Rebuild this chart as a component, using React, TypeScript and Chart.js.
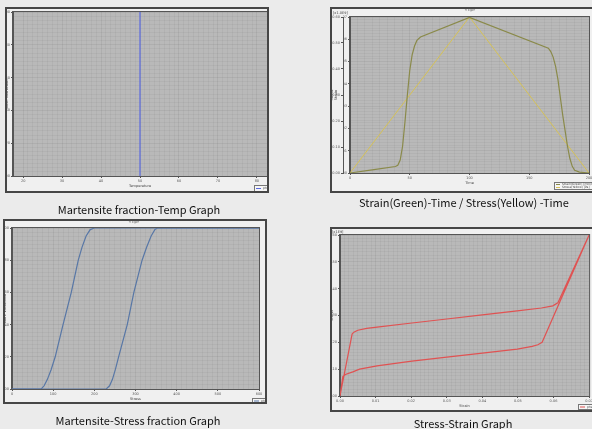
import React, { useEffect, useRef } from 'react';
import { Chart, registerables } from 'chart.js';
Chart.register(...registerables);

const FONT = '"DejaVu Sans", sans-serif';

// ---------- Panel 1: Martensite fraction vs Temperature ----------
const tempValues = [50, 50];
const tempFraction = [0, 1];
const tempTicks = [20, 30, 40, 50, 60, 70, 80];
const fractionTicks = [0, 0.2, 0.4, 0.6, 0.8, 1.0];

// ---------- Panel 2: Strain / Stress vs Time ----------
const strainTime = [0, 20, 38, 40, 42, 44, 46, 48, 50, 52, 54, 56, 59, 100, 166, 168, 170, 172, 174, 176, 178, 180, 182, 184, 186, 188, 192, 200];
const strainValues = [0, 0.0015, 0.0029, 0.0035, 0.0058, 0.012, 0.023, 0.035, 0.046, 0.053, 0.057, 0.0595, 0.061, 0.0698, 0.056, 0.0545, 0.052, 0.048, 0.042, 0.034, 0.026, 0.019, 0.012, 0.0065, 0.003, 0.0012, 0.0004, 0];
const stressTime = [0, 100, 200];
const stressValues = [0, 0.6, 0];
const timeTicks = [0, 50, 100, 150, 200];
const strainAxisTicks = [0, 0.01, 0.02, 0.03, 0.04, 0.05, 0.06, 0.07];
const stressAxisTicks = [0, 0.1, 0.2, 0.3, 0.4, 0.5, 0.6];

// ---------- Panel 3: Martensite fraction vs Stress ----------
const stressA = [0, 71, 78, 86, 95, 105, 124, 144, 161, 170, 180, 190, 200, 600];
const fractionA = [0, 0, 0.02, 0.06, 0.12, 0.2, 0.4, 0.6, 0.8, 0.88, 0.95, 0.99, 1, 1];
const stressB = [0, 229, 237, 244, 251, 259, 280, 296, 316, 327, 338, 347, 353, 600];
const fractionB = [0, 0, 0.02, 0.06, 0.12, 0.2, 0.4, 0.6, 0.8, 0.88, 0.95, 0.99, 1, 1];
const stressMpaTicks = [0, 100, 200, 300, 400, 500, 600];

// ---------- Panel 4: Stress vs Strain loop ----------
const loopStrain = [0, 0.0034, 0.0039, 0.005, 0.0075, 0.0104, 0.0202, 0.03, 0.04, 0.0498, 0.0566, 0.0598, 0.0612, 0.07, 0.0568, 0.0556, 0.054, 0.0498, 0.04, 0.03, 0.0202, 0.0104, 0.0055, 0.0036, 0.0015, 0.0008, 0];
const loopStress = [0, 0.231, 0.238, 0.245, 0.252, 0.257, 0.272, 0.287, 0.302, 0.317, 0.328, 0.336, 0.347, 0.6, 0.2, 0.191, 0.185, 0.175, 0.16, 0.145, 0.13, 0.112, 0.1, 0.09, 0.08, 0.072, 0];
const loopStrainTicks = [0, 0.01, 0.02, 0.03, 0.04, 0.05, 0.06, 0.07];
const loopStressTicks = [0, 0.1, 0.2, 0.3, 0.4, 0.5, 0.6];

function buildTicks(major: number[], minor: number) {
  const out: number[] = [];
  for (let i = 0; i < major.length - 1; i++) {
    const a = major[i], b = major[i + 1];
    for (let k = 0; k < minor; k++) out.push(a + ((b - a) * k) / minor);
  }
  out.push(major[major.length - 1]);
  return out;
}

function axis(o: any) {
  const horizontal = o.pos === 'bottom' || o.pos === 'top';
  const span = o.max - o.min;
  const isMajor = (v: number) => o.major.some((m: number) => Math.abs(m - v) < span * 1e-6);
  return {
    type: 'linear',
    position: o.pos,
    min: o.min,
    max: o.max,
    weight: o.weight ?? 0,
    afterBuildTicks: (s: any) => {
      s.ticks = buildTicks(o.major, o.minor ?? 8).map((v) => ({ value: v }));
    },
    afterFit: (s: any) => {
      if (horizontal) s.height = o.size;
      else s.width = o.size;
    },
    ticks: {
      autoSkip: false,
      maxRotation: 0,
      minRotation: 0,
      padding: 1,
      color: '#555',
      font: { size: 3.5, family: FONT },
      callback: (v: number) => (isMajor(v) ? o.fmt(v) : ''),
    },
    grid: {
      drawOnChartArea: o.grid !== false,
      color: (c: any) => (c.tick && isMajor(c.tick.value) ? 'rgba(0,0,0,0.055)' : 'rgba(0,0,0,0.035)'),
      tickColor: (c: any) => (c.tick && isMajor(c.tick.value) ? '#555' : 'rgba(0,0,0,0)'),
      tickLength: 2,
      lineWidth: 1,
    },
    border: { display: true, color: '#555', width: 1 },
    title: o.title
      ? { display: true, text: o.title, font: { size: 3.5, family: FONT }, color: '#444', padding: 0 }
      : { display: false },
  };
}

function framePlugin() {
  return {
    id: 'frame',
    beforeDraw(chart: any) {
      const { ctx, chartArea: a } = chart;
      ctx.save();
      ctx.fillStyle = '#b9b9b9';
      ctx.fillRect(a.left, a.top, a.right - a.left, a.bottom - a.top);
      ctx.restore();
    },
    afterDraw(chart: any) {
      const { ctx, chartArea: a } = chart;
      ctx.save();
      ctx.strokeStyle = '#555';
      ctx.lineWidth = 1;
      ctx.strokeRect(a.left - 0.5, a.top - 0.5, a.right - a.left + 1, a.bottom - a.top + 1);
      ctx.restore();
    },
  };
}

function legendPlugin(r: { x: number; y: number; w: number; h: number; line: number }) {
  return {
    id: 'boxLegend',
    afterDraw(chart: any) {
      const ctx = chart.ctx;
      ctx.save();
      ctx.fillStyle = '#f6f6f6';
      ctx.fillRect(r.x, r.y, r.w, r.h);
      ctx.strokeStyle = '#777';
      ctx.lineWidth = 1;
      ctx.strokeRect(r.x + 0.5, r.y + 0.5, r.w - 1, r.h - 1);
      const ds = chart.data.datasets.filter((d: any) => d.label);
      const rowH = (r.h - 2) / ds.length;
      ds.forEach((d: any, i: number) => {
        const cy = r.y + 1 + rowH * (i + 0.5);
        ctx.strokeStyle = d.borderColor;
        ctx.beginPath();
        ctx.moveTo(r.x + 2, cy);
        ctx.lineTo(r.x + 2 + r.line, cy);
        ctx.stroke();
        ctx.fillStyle = '#444';
        ctx.font = `3px ${FONT}`;
        ctx.textBaseline = 'middle';
        ctx.fillText(d.label, r.x + 4 + r.line, cy);
      });
      ctx.restore();
    },
  };
}

function notesPlugin(items: { text: string; x: number; y: number; align?: string }[]) {
  return {
    id: 'notes',
    afterDraw(chart: any) {
      const ctx = chart.ctx;
      ctx.save();
      ctx.fillStyle = '#444';
      ctx.font = `3.5px ${FONT}`;
      ctx.textBaseline = 'middle';
      items.forEach((n) => {
        ctx.textAlign = n.align || 'left';
        ctx.fillText(n.text, n.x, n.y);
      });
      ctx.restore();
    },
  };
}

function pts(xs: number[], ys: number[]) {
  return xs.map((x, i) => ({ x, y: ys[i] }));
}

const f2 = (v: number) => v.toFixed(2);
const f0 = (v: number) => String(Math.round(v));

function baseOptions(padding: any, scales: any) {
  return {
    responsive: false,
    animation: false,
    devicePixelRatio: 1,
    layout: { padding },
    plugins: { legend: { display: false }, tooltip: { enabled: false }, title: { display: false } },
    elements: { point: { radius: 0 }, line: { tension: 0 } },
    scales,
  };
}

function config1() {
  return {
    type: 'scatter',
    data: {
      datasets: [
        { label: 'phs1', data: pts(tempValues, tempFraction), showLine: true, borderColor: '#5a6ae0', borderWidth: 1.2, pointRadius: 0, clip: 2 },
      ],
    },
    options: baseOptions(
      { left: 0, top: 5, right: 2, bottom: 5 },
      {
        x: axis({ pos: 'bottom', min: 17.4, max: 82.6, major: tempTicks, size: 12, fmt: f0, title: 'Temperature' }),
        y: axis({ pos: 'left', min: 0, max: 1, major: fractionTicks, size: 8, fmt: f2, title: 'Mart. Volfraction' }),
      }
    ),
    plugins: [framePlugin(), legendPlugin({ x: 249, y: 178, w: 15, h: 7, line: 5 })],
  };
}

function config2() {
  return {
    type: 'scatter',
    data: {
      datasets: [
        { label: 'Strain(Green) [mm/mm]', data: pts(strainTime, strainValues), showLine: true, borderColor: '#8a8a4a', borderWidth: 1.2, pointRadius: 0, yAxisID: 'y', clip: 2 },
        { label: 'Stress(Yellow) [Pa]', data: pts(stressTime, stressValues), showLine: true, borderColor: '#d6c256', borderWidth: 1, pointRadius: 0, yAxisID: 'y1', clip: 2 },
      ],
    },
    options: baseOptions(
      { left: 0, top: 10, right: 5, bottom: 8 },
      {
        x: axis({ pos: 'bottom', min: 0, max: 200, major: timeTicks, size: 12, fmt: f0, title: 'Time' }),
        y: axis({ pos: 'left', min: 0, max: 0.07, major: strainAxisTicks, size: 7, fmt: f2, weight: 0 }),
        y1: axis({ pos: 'left', min: 0, max: 0.6, major: stressAxisTicks, size: 13, fmt: f2, weight: 1, grid: false, title: ['Stress', 'Strain'] }),
      }
    ),
    plugins: [
      framePlugin(),
      legendPlugin({ x: 224, y: 175, w: 40, h: 8, line: 4 }),
      notesPlugin([
        { text: '[x1.0E9]', x: 3, y: 6 },
        { text: '<Tip>', x: 140, y: 3, align: 'center' },
      ]),
    ],
  };
}

function config3() {
  return {
    type: 'scatter',
    data: {
      datasets: [
        { label: 'phs1', data: pts(stressA, fractionA), showLine: true, borderColor: '#5877a6', borderWidth: 1.2, pointRadius: 0, clip: 2 },
        { data: pts(stressB, fractionB), showLine: true, borderColor: '#5877a6', borderWidth: 1.2, pointRadius: 0, clip: 2 },
      ],
    },
    options: baseOptions(
      { left: 0, top: 9, right: 8, bottom: 3 },
      {
        x: axis({ pos: 'bottom', min: 0, max: 600, major: stressMpaTicks, size: 12, fmt: f0, title: 'Stress' }),
        y: axis({ pos: 'left', min: 0, max: 1, major: fractionTicks, size: 9, fmt: f2, title: 'Mart. Volfraction' }),
      }
    ),
    plugins: [
      framePlugin(),
      legendPlugin({ x: 249, y: 179, w: 15, h: 6, line: 5 }),
      notesPlugin([{ text: '<Tip>', x: 131, y: 3, align: 'center' }]),
    ],
  };
}

function config4() {
  return {
    type: 'scatter',
    data: {
      datasets: [
        { label: 'phs1', data: pts(loopStrain, loopStress), showLine: true, borderColor: '#e05252', borderWidth: 1.2, pointRadius: 0, clip: 2 },
      ],
    },
    options: baseOptions(
      { left: 0, top: 8, right: 4, bottom: 4 },
      {
        x: axis({ pos: 'bottom', min: 0, max: 0.07, major: loopStrainTicks, size: 12, fmt: f2, title: 'Strain' }),
        y: axis({ pos: 'left', min: 0, max: 0.6, major: loopStressTicks, size: 10, fmt: f2, title: 'Stress' }),
      }
    ),
    plugins: [
      framePlugin(),
      legendPlugin({ x: 248, y: 177, w: 20, h: 6, line: 5 }),
      notesPlugin([{ text: '[x1E9]', x: 2, y: 5 }]),
    ],
  };
}

function Panel({ x, y, w, h, make }: { x: number; y: number; w: number; h: number; make: () => any }) {
  const ref = useRef<HTMLCanvasElement>(null);
  useEffect(() => {
    if (!ref.current) return;
    const chart = new Chart(ref.current, make());
    return () => chart.destroy();
  }, []);
  return (
    <div style={{ position: 'absolute', left: x, top: y, width: w, height: h, background: '#f0f0f0' }}>
      <canvas ref={ref} width={w} height={h} style={{ position: 'absolute', left: 0, top: 0, width: w, height: h }} />
      <div style={{ position: 'absolute', left: 0, top: 0, width: w, height: h, border: '2px solid #464646', boxSizing: 'border-box', pointerEvents: 'none' }} />
    </div>
  );
}

function Caption({ text, cx, top }: { text: string; cx: number; top: number }) {
  return (
    <div style={{ position: 'absolute', left: cx - 150, top, width: 300, textAlign: 'center', fontFamily: '"Noto Sans CJK KR", "Noto Sans", sans-serif', fontSize: 11, lineHeight: '14px', color: '#111', whiteSpace: 'nowrap' }}>
      {text}
    </div>
  );
}

export default function App() {
  return (
    <div style={{ position: 'absolute', left: 0, top: 0, width: 592, height: 429, background: '#ebebeb', overflow: 'hidden' }}>
      <Panel x={5} y={7} w={264} h={186} make={config1} />
      <Panel x={330} y={7} w={264} h={186} make={config2} />
      <Panel x={3} y={219} w={264} h={185} make={config3} />
      <Panel x={330} y={227} w={264} h={185} make={config4} />
      <Caption text="Martensite fraction-Temp Graph" cx={139} top={202} />
      <Caption text="Strain(Green)-Time / Stress(Yellow) -Time" cx={464} top={195} />
      <Caption text="Martensite-Stress fraction Graph" cx={138} top={413} />
      <Caption text="Stress-Strain Graph" cx={463} top={416} />
    </div>
  );
}
